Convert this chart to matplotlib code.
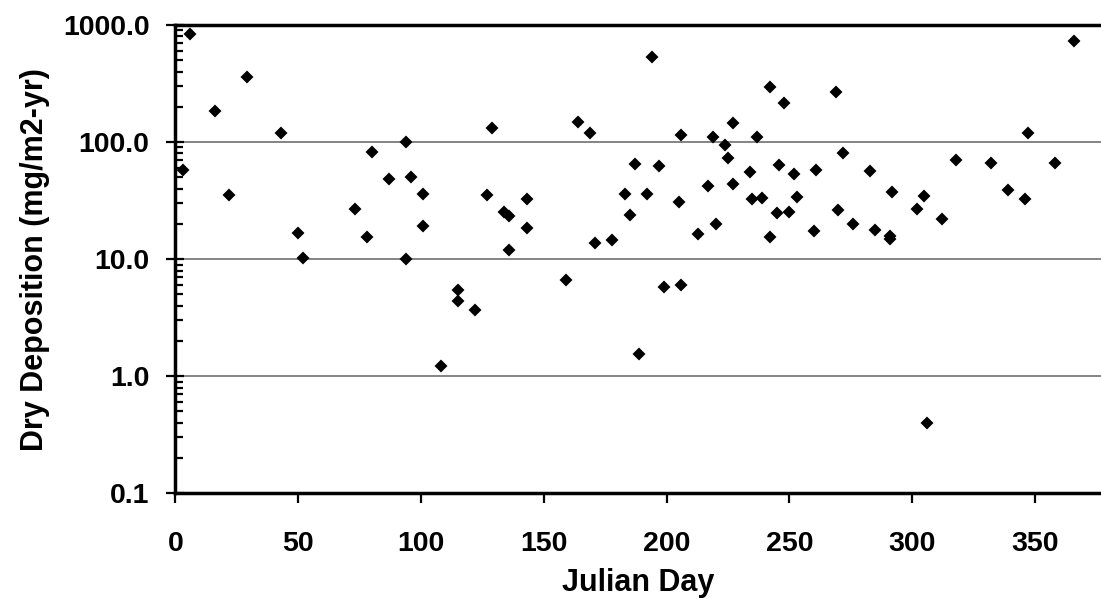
import matplotlib.pyplot as plt
from matplotlib.ticker import FixedLocator, LogLocator, NullFormatter, FuncFormatter

# Julian day of each sample
julian_day = [3, 6, 16, 22, 29, 43, 50, 52, 73, 78,
              80, 87, 94, 94, 96, 101, 101, 108, 115, 115,
              122, 127, 129, 134, 136, 136, 143, 143, 159, 164,
              169, 171, 178, 183, 185, 187, 189, 192, 194, 197,
              199, 205, 206, 206, 213, 217, 219, 220, 224, 225,
              227, 227, 234, 235, 237, 239, 242, 242, 245, 246,
              248, 250, 252, 253, 260, 261, 269, 270, 272, 276,
              283, 285, 291, 291, 292, 302, 305, 306, 312, 318,
              332, 339, 346, 347, 358, 366]

# dry deposition (mg/m2-yr)
dry_dep = [58, 831, 184, 35.5, 357, 119, 16.6, 10.3, 26.7, 15.5,
           82, 48.3, 100.7, 10.0, 50.6, 36, 19.1, 1.22, 5.40, 4.40,
           3.71, 35.2, 131, 25.5, 23.2, 11.9, 32.6, 18.3, 6.65, 149,
           120, 13.7, 14.6, 36.2, 23.8, 64.9, 1.54, 36, 530, 62.7,
           5.84, 30.9, 114.8, 6.0, 16.3, 42, 111, 19.9, 94.8, 73,
           145, 44, 55.7, 32.4, 109.7, 33.4, 295, 15.4, 24.6, 63.6,
           217, 25.2, 53.3, 33.9, 17.4, 58, 266, 26.4, 80, 19.8,
           56.1, 17.9, 15.7, 14.9, 37.2, 26.6, 34.5, 0.40, 22.1, 70.6,
           65.8, 38.9, 32.6, 119, 66.2, 734]

x_ticks = [0, 50, 100, 150, 200, 250, 300, 350]
y_ticks = [0.1, 1.0, 10.0, 100.0, 1000.0]

plt.rcParams['font.family'] = 'Liberation Sans'
plt.rcParams['font.weight'] = 'bold'

fig = plt.figure(figsize=(11.01, 6.09), dpi=100)
ax = fig.add_axes([0.1592, 0.19, 1.0 - 0.1592, 0.9589 - 0.19])

ax.plot(julian_day, dry_dep, 'D', color='black', markersize=5.2,
        markeredgewidth=1.5, zorder=3)

ax.set_yscale('log')
ax.set_ylim(0.1, 1000)
ax.set_xlim(0, 376.9)

# grid only at the inner decades
for g in [1, 10, 100]:
    ax.axhline(g, color='#707070', linewidth=1.2, zorder=1)

ax.yaxis.set_major_locator(FixedLocator(y_ticks))
ax.yaxis.set_major_formatter(FuncFormatter(lambda v, p: '%.1f' % v))
ax.yaxis.set_minor_locator(LogLocator(base=10, subs=range(2, 10)))
ax.yaxis.set_minor_formatter(NullFormatter())
ax.xaxis.set_major_locator(FixedLocator(x_ticks))

ax.tick_params(axis='y', which='major', direction='inout', length=13,
               width=1.6, labelsize=20.5, pad=12)
ax.tick_params(axis='y', which='minor', direction='in', length=6, width=1.6)
ax.tick_params(axis='x', which='major', direction='out', length=7,
               width=1.6, labelsize=20.5, pad=20)

for side in ['left', 'bottom', 'top']:
    ax.spines[side].set_linewidth(2.5)
ax.spines['right'].set_visible(False)

for lbl in ax.get_xticklabels() + ax.get_yticklabels():
    lbl.set_fontweight('bold')

ax.set_xlabel('Julian Day', fontsize=22, fontweight='bold', labelpad=8)
ax.set_ylabel('Dry Deposition (mg/m2-yr)', fontsize=22, fontweight='bold',
              labelpad=9)

fig.savefig('out.png', dpi=100)
